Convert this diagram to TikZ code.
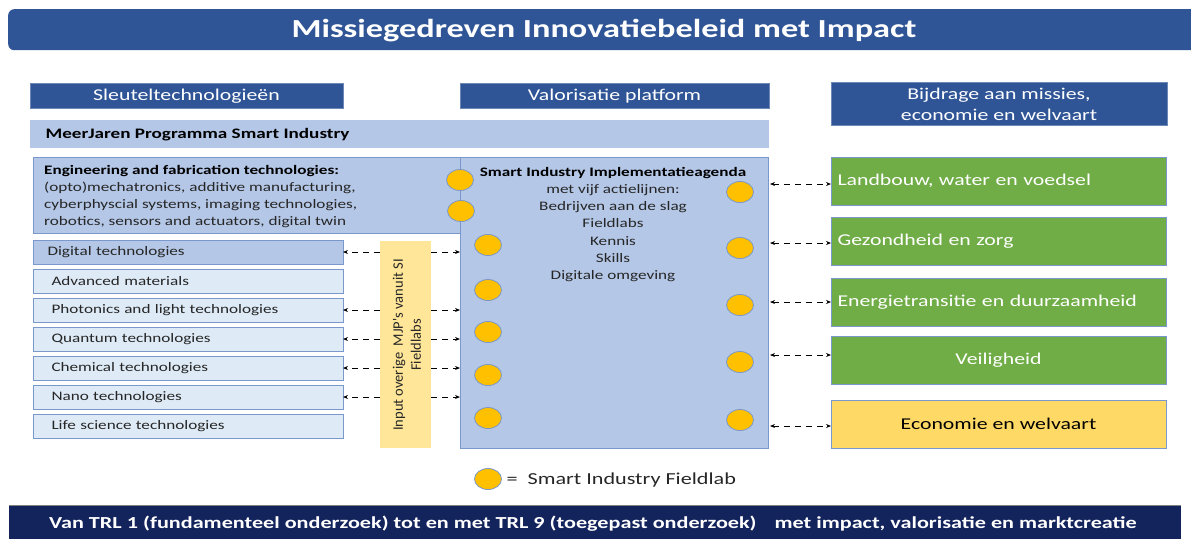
\documentclass[tikz,border=0pt]{standalone}
\usepackage{fontspec}
\setmainfont{Carlito}[FakeStretch=1.32]
\newfontfamily\plainfont{Carlito}
\usetikzlibrary{arrows.meta,shapes.geometric}
\definecolor{dblue}{HTML}{2F5597}
\definecolor{lblue}{HTML}{B4C7E7}
\definecolor{vlblue}{HTML}{DEEBF7}
\definecolor{bord}{HTML}{7A98CB}
\definecolor{mgreen}{HTML}{70AD47}
\definecolor{myell}{HTML}{FFD966}
\definecolor{pyell}{HTML}{FFE699}
\definecolor{circ}{HTML}{FFC000}
\definecolor{navy}{HTML}{13235B}
\definecolor{txt}{HTML}{262626}
\newcommand{\techtext}[2]{\hspace*{#1}\raisebox{-1.5pt}{#2}}
\tikzset{
  box/.style={draw=bord, line width=0.8pt, inner sep=0pt, outer sep=0pt},
  hdr/.style={box, fill=dblue, draw=dblue!70!white, text=white, font=\fontsize{16.5}{21}\selectfont, align=center},
  tech/.style={box, fill=vlblue, minimum width=310pt, minimum height=24pt, text=txt, font=\fontsize{13}{15}\selectfont, text width=295pt, align=left},
  mission/.style={box, fill=mgreen, minimum width=335pt, minimum height=48pt, text=white, font=\fontsize{16.5}{18}\selectfont},
  lab/.style={ellipse, draw=bord, line width=0.8pt, fill=circ, minimum width=27pt, minimum height=21pt, inner sep=0pt},
  dashline/.style={dash pattern=on 6pt off 5pt, line width=0.9pt, black},
  tip/.style={-{Stealth[length=5pt,width=4pt]}},
  dtip/.style={{Stealth[length=5pt,width=4pt]}-{Stealth[length=5pt,width=4pt]}},
}
\begin{document}
\begin{tikzpicture}[x=1pt,y=-1pt]
\useasboundingbox (0,0) rectangle (1191,539);
% title
\node[fill=dblue, rounded corners=6pt, minimum width=1200pt, minimum height=41pt, anchor=north west, inner sep=0pt] (titlebar) at (8,9) {};
\node[text=white, font=\fontsize{26}{28}\selectfont\bfseries] (title) at (604,30.5) {Missiegedreven Innovatiebeleid met Impact};
% headers
\node[hdr, minimum width=313pt, minimum height=25pt] (h1) at (186.5,96) {Sleuteltechnologieën};
\node[hdr, minimum width=309pt, minimum height=25pt] (h2) at (614.5,96) {Valorisatie platform};
\node[hdr, minimum width=336pt, minimum height=43pt] (h3) at (999,104) {Bijdrage aan missies,\\economie en welvaart};
% MJP bar
\node[fill=lblue, minimum width=739pt, minimum height=28pt, inner sep=0pt, anchor=north west] (mjp) at (30,120) {};
\node[anchor=west, font=\fontsize{14.5}{16}\selectfont\bfseries, text=black] (mjpt) at (42,135) {MeerJaren Programma Smart Industry};
% engineering box
\node[box, fill=lblue, minimum width=427pt, minimum height=76pt, anchor=north west] (eng) at (33,157) {};
\node[anchor=north west, align=left, font=\fontsize{13}{17}\selectfont, text=txt, inner sep=0pt] (engt) at (44,165)
 {\textbf{\color{black}Engineering and fabrication technologies:}\\(opto)mechatronics, additive manufacturing,\\cyberphyscial systems, imaging technologies,\\robotics, sensors and actuators, digital twin};
% central box
\node[box, fill=lblue, minimum width=308pt, minimum height=291pt, anchor=north west] (sia) at (460,157) {};
\node[anchor=north, align=center, font=\fontsize{13}{17.2}\selectfont, text=txt, inner sep=0pt] (siat) at (613,167)
 {\textbf{\color{black}Smart Industry Implementatieagenda}\\met vijf actielijnen:\\Bedrijven aan de slag\\Fieldlabs\\Kennis\\Skills\\Digitale omgeving};
% tech list
\node[tech, fill=lblue, anchor=north west] (t1) at (33,240) {\techtext{7pt}{Digital technologies}};
\node[tech, anchor=north west] (t2) at (33,269) {\techtext{11pt}{Advanced materials}};
\node[tech, anchor=north west] (t3) at (33,298) {\techtext{11pt}{Photonics and light technologies}};
\node[tech, anchor=north west] (t4) at (33,327) {\techtext{11pt}{Quantum technologies}};
\node[tech, anchor=north west] (t5) at (33,356) {\techtext{11pt}{Chemical technologies}};
\node[tech, anchor=north west] (t6) at (33,385) {\techtext{11pt}{Nano technologies}};
\node[tech, anchor=north west] (t7) at (33,414) {\techtext{11pt}{Life science technologies}};
% input column
\node[fill=pyell, minimum width=51pt, minimum height=207pt, inner sep=0pt, anchor=north west] (inp) at (380,241) {};
\node[rotate=90, align=center, font=\plainfont\fontsize{14.5}{18}\selectfont, text=txt] (inpt) at (407,345) {Input overige\ \ MJP's vanuit SI\\Fieldlabs};
% arrows left
\foreach \t in {t1,t3,t4,t5,t6}{
  \draw[dashline, tip] (inp.west |- \t.east) -- (\t.east);
  \draw[dashline, tip] (inp.east |- \t.east) -- (sia.west |- \t.east);
}
% mission boxes
\node[mission, anchor=north west, text width=322pt, align=left] (m1) at (831,157) {Landbouw, water en voedsel};
\node[mission, anchor=north west, text width=322pt, align=left] (m2) at (831,217) {Gezondheid en zorg};
\node[mission, anchor=north west, text width=322pt, align=left] (m3) at (831,278) {Energietransitie en duurzaamheid};
\node[mission, anchor=north west] (m4) at (831,336) {Veiligheid};
\node[mission, fill=myell, text=black, anchor=north west] (m5) at (831,400) {Economie en welvaart};
% fieldlabs
\node[lab] (l1) at (460,180) {};
\node[lab] (l2) at (461,211) {};
\node[lab] (l3) at (488,245) {};
\node[lab] (l4) at (488,290) {};
\node[lab] (l5) at (488,332) {};
\node[lab] (l6) at (488,375) {};
\node[lab] (l7) at (488,418) {};
\node[lab] (r1) at (740,192) {};
\node[lab] (r2) at (740,248) {};
\node[lab] (r3) at (740,305) {};
\node[lab] (r4) at (740,362) {};
\node[lab] (r5) at (740,420) {};
% right arrows
\coordinate (c1) at (770,184);
\coordinate (c2) at (770,243);
\coordinate (c3) at (770,302);
\coordinate (c4) at (770,355);
\coordinate (c5) at (770,426);
\foreach \i in {1,...,5}{
  \draw[dashline, dtip] (c\i) -- (m\i.west |- c\i);
}
% legend
\node[lab] (leg) at (488,479) {};
\node[anchor=west, font=\fontsize{16.8}{18}\selectfont, text=txt] (legt) at (503,480) {=\ \ Smart Industry Fieldlab};
% bottom bar
\draw[gray, line width=1.2pt] (9,505.5) -- (1181,505.5);
\node[fill=navy, minimum width=1172pt, minimum height=33pt, inner sep=0pt, anchor=north west] (bot) at (9,506) {};
\node[text=white, font=\fontsize{16.8}{18}\selectfont\bfseries] (bott) at (593,524) {Van TRL 1 (fundamenteel onderzoek) tot en met TRL 9 (toegepast onderzoek)\hspace{18pt}met impact, valorisatie en marktcreatie};
\end{tikzpicture}
\end{document}
